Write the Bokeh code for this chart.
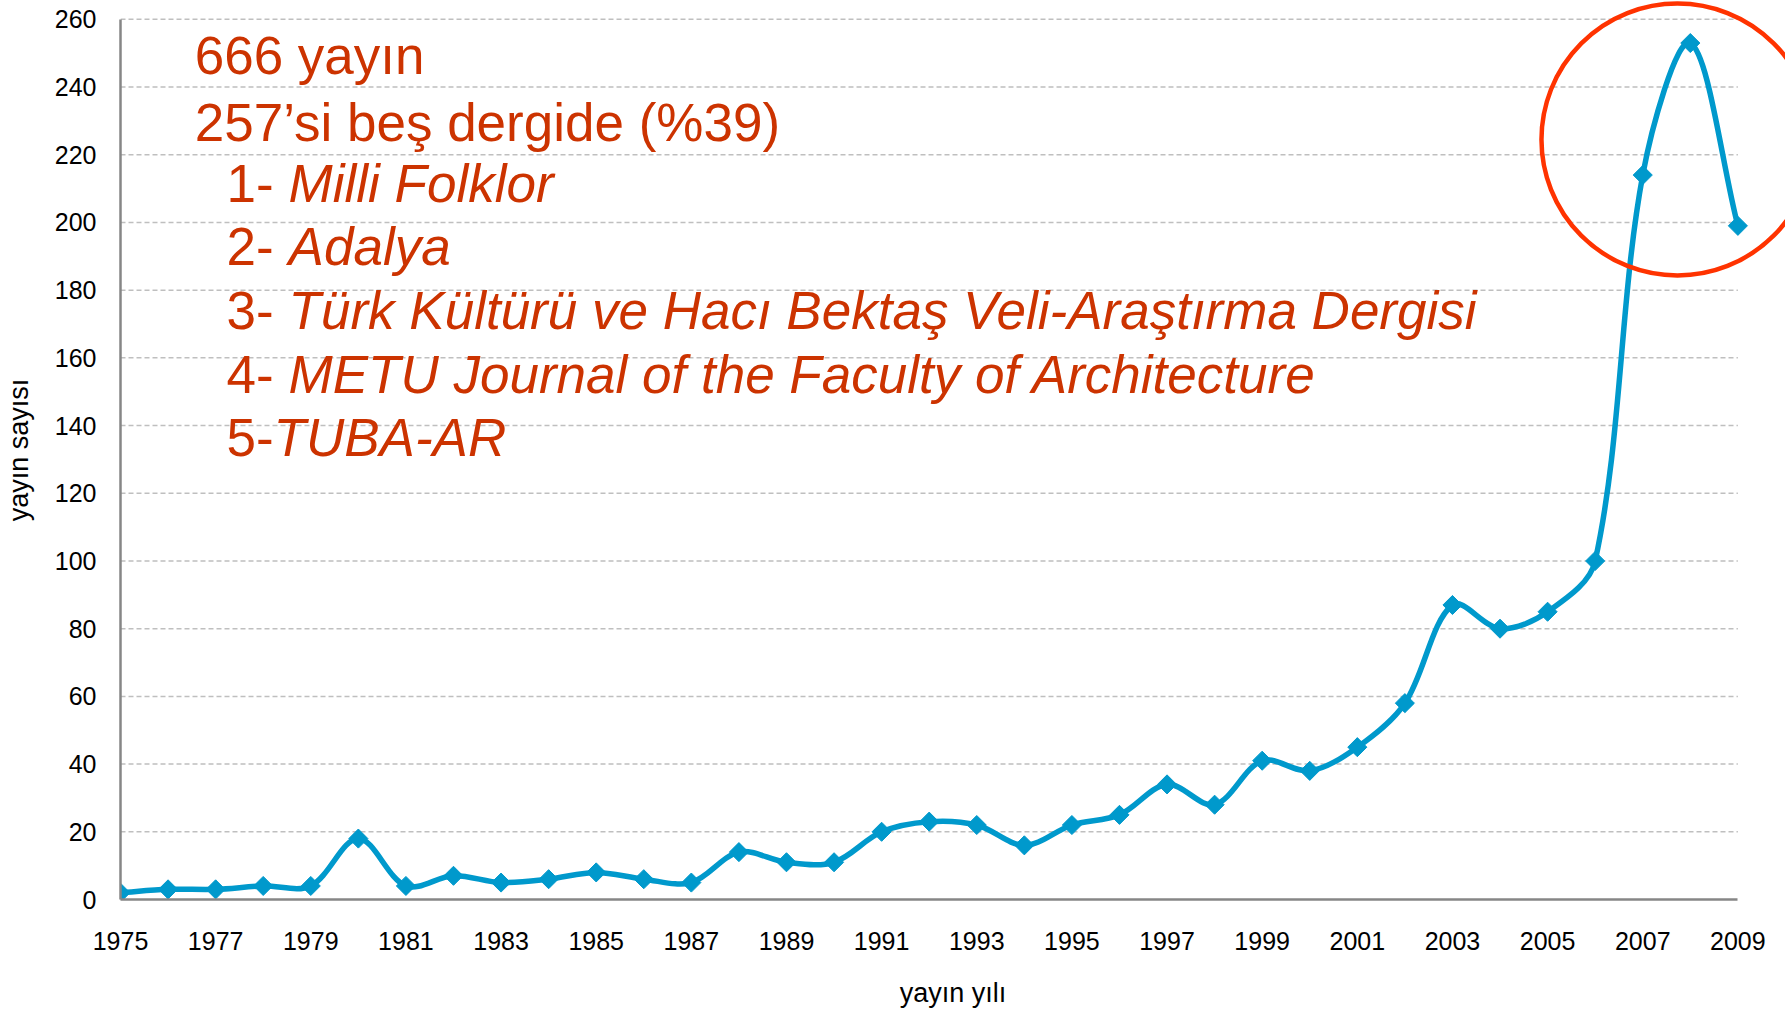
import math
from bokeh.plotting import figure
from bokeh.models import FixedTicker, Range1d, Label, ColumnDataSource
from bokeh.embed import file_html
from bokeh.resources import INLINE

# ---- data ----
years = list(range(1975, 2010))
counts = [2, 3, 3, 4, 4, 18, 4, 7, 5, 6, 8, 6, 5, 14, 11, 11, 20, 23, 22, 16,
          22, 25, 34, 28, 41, 38, 45, 58, 87, 80, 85, 100, 214, 253, 199]
x_ticks = list(range(1975, 2010, 2))
y_ticks = list(range(0, 261, 20))
x_title = "yayın yılı"
y_title = "yayın sayısı"
note_lines = ["666 yayın", "257’si beş dergide (%39)"]
list_prefix = ["1- ", "2- ", "3- ", "4- ", "5-"]
list_names = ["Milli Folklor", "Adalya", "Türk Kültürü ve Hacı Bektaş Veli-Araştırma Dergisi",
              "METU Journal of the Faculty of Architecture", "TUBA-AR"]

FONT = "Liberation Sans"
LINE_C = "#0099CC"
TEXT_C = "#CC3300"

W, H = 1785, 1010
BL, BB = 120, 110
PX_X = 47.57   # px per year
PX_Y = 3.389   # px per unit
x_end = years[0] + (W - BL) / PX_X
y_end = (H - BB) / PX_Y

p = figure(width=W, height=H, output_backend="svg", toolbar_location=None,
           x_range=Range1d(years[0], x_end), y_range=Range1d(0, y_end),
           min_border_left=BL, min_border_right=0, min_border_top=0, min_border_bottom=BB)
p.outline_line_color = None
p.xgrid.visible = False
p.ygrid.visible = False

# dashed horizontal gridlines spanning 1975..2009
gy = [v for v in y_ticks if v != 0]
p.segment(x0=[years[0]] * len(gy), x1=[years[-1]] * len(gy), y0=gy, y1=gy,
          line_color="#BFBFBF", line_width=1.5, line_dash="5 3")

# axes
for ax in (p.xaxis[0], p.yaxis[0]):
    ax.axis_line_color = "#868686"
    ax.axis_line_width = 2.5
    ax.major_tick_out = 0
    ax.major_tick_in = 0
    ax.minor_tick_out = 0
    ax.minor_tick_in = 0
    ax.major_label_text_font = FONT
    ax.major_label_text_font_size = "25px"
    ax.major_label_text_color = "#000000"
    ax.axis_label_text_font = FONT
    ax.axis_label_text_font_size = "27px"
    ax.axis_label_text_font_style = "normal"
    ax.axis_label_text_color = "#000000"
p.xaxis.ticker = FixedTicker(ticks=x_ticks)
p.yaxis.ticker = FixedTicker(ticks=y_ticks)
p.xaxis.bounds = (years[0], years[-1])
p.yaxis.bounds = (y_ticks[0], y_ticks[-1])
p.xaxis.axis_label = x_title
p.yaxis.axis_label = y_title
p.xaxis.major_label_standoff = 32
p.xaxis.axis_label_standoff = 25
p.yaxis.major_label_standoff = 24
p.yaxis.axis_label_standoff = 18

# smoothed line: cubic Bezier segments, control arms scaled by screen segment lengths
n = len(years)
sx = [v * PX_X for v in years]
sy = [v * PX_Y for v in counts]
T = 1.0 / 3.0
cin, cout = [], []
for i in range(n):
    a = max(i - 1, 0)
    b = min(i + 1, n - 1)
    d01 = math.hypot(sx[i] - sx[a], sy[i] - sy[a])
    d12 = math.hypot(sx[b] - sx[i], sy[b] - sy[i])
    tot = d01 + d12
    fa = T * d01 / tot
    fb = T * d12 / tot
    dx = sx[b] - sx[a]
    dy = sy[b] - sy[a]
    cin.append(((sx[i] - fa * dx) / PX_X, (sy[i] - fa * dy) / PX_Y))
    cout.append(((sx[i] + fb * dx) / PX_X, (sy[i] + fb * dy) / PX_Y))
bsrc = ColumnDataSource(dict(
    x0=years[:-1], y0=counts[:-1], x1=years[1:], y1=counts[1:],
    cx0=[c[0] for c in cout[:-1]], cy0=[c[1] for c in cout[:-1]],
    cx1=[c[0] for c in cin[1:]], cy1=[c[1] for c in cin[1:]]))
p.bezier(x0="x0", y0="y0", x1="x1", y1="y1", cx0="cx0", cy0="cy0", cx1="cx1", cy1="cy1",
         source=bsrc, line_color=LINE_C, line_width=5.5)
p.scatter(years, counts, marker="square", angle=0.785398, size=13.5,
          fill_color=LINE_C, line_color=LINE_C)

# highlight circle around the last three years
p.scatter([2007.73], [224.5], marker="circle", size=272, fill_color=None,
          line_color="#FF3300", line_width=4.5)

# annotation text
txt = dict(text_font=FONT, text_font_size="53px", text_color=TEXT_C, text_baseline="alphabetic")
p.add_layout(Label(x=1976.56, y=249.4, text=note_lines[0], **txt))
p.add_layout(Label(x=1976.56, y=229.4, text=note_lines[1], **txt))
list_y = [211.6, 192.9, 174.0, 155.2, 136.5]
pref_w = [62, 62, 62, 62, 47]
for pre, name, yy, w in zip(list_prefix, list_names, list_y, pref_w):
    p.add_layout(Label(x=1977.23, y=yy, text=pre, **txt))
    p.add_layout(Label(x=1977.23, y=yy, x_offset=w, text=name, text_font_style="italic", **txt))

open("out.html", "w").write(file_html(p, INLINE))
